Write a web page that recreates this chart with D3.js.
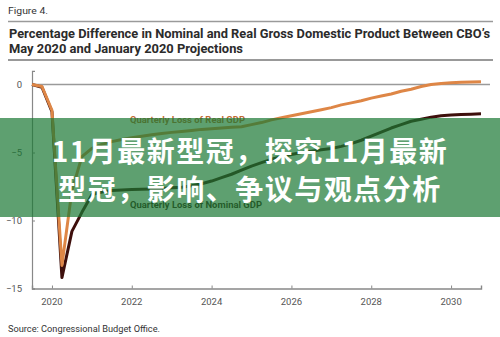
<!DOCTYPE html>
<html><head><meta charset="utf-8">
<script src="https://cdn.jsdelivr.net/npm/d3@7"></script>
<style>
html,body{margin:0;padding:0;background:#fff;}
svg{display:block;}
</style></head>
<body>
<svg id="c" width="500" height="337"></svg>
<script>
// Quarters 2019Q3 .. 2030Q4
const startYear = 2019.5;
const realLoss = [0, -0.15, -1.9, -13.3, -7.8, -5.3,
  -4.7, -4.4, -4.2, -4.05,
  -3.92, -3.8, -3.7, -3.6,
  -3.52, -3.45, -3.38, -3.3,
  -3.25, -3.2, -3.15, -3.1,
  -2.95, -2.8, -2.6, -2.45,
  -2.3, -2.15, -2.0, -1.85,
  -1.7, -1.5, -1.35, -1.2,
  -1.0, -0.85, -0.7, -0.5,
  -0.35, -0.15, 0.0, 0.08,
  0.12, 0.16, 0.18, 0.2];
const nominalLoss = [0, -0.2, -2.0, -14.2, -10.8, -9.4,
  -8.1, -7.9, -7.8, -7.75,
  -7.72, -7.7, -7.68, -7.65,
  -7.6, -7.55, -7.45, -7.3,
  -7.1, -6.85, -6.6, -6.3,
  -6.0, -5.75, -5.5, -5.3,
  -5.15, -5.0, -4.9, -4.8,
  -4.7, -4.55, -4.35, -4.1,
  -3.8, -3.5, -3.2, -2.95,
  -2.7, -2.55, -2.4, -2.3,
  -2.25, -2.2, -2.18, -2.15];
const yTicks = [0, -5, -10, -15];
const xTicks = [2020, 2022, 2024, 2026, 2028, 2030];
const figLabel = "Figure 4.";
const titleLines = ["Percentage Difference in Nominal and Real Gross Domestic Product Between CBO\u2019s",
                    "May 2020 and January 2020 Projections"];
const seriesLabels = ["Quarterly Loss of Real GDP", "Quarterly Loss of Nominal GDP"];
const source = "Source: Congressional Budget Office.";
const bannerLines = ["11月最新型冠，探究11月最新", "型冠，影响、争议与观点分析"];

const svg = d3.select("#c");
const x = d3.scaleLinear().domain([2019.5, 2030.75]).range([32, 481]);
const y = d3.scaleLinear().domain([-15, 1]).range([288.5, 70.9]);
const FONT = "Roboto, 'Liberation Sans', Arial, sans-serif";

// header
svg.append("text").attr("x", 8).attr("y", 13.5).attr("font-family", FONT)
  .attr("font-size", 9).attr("fill", "#333").attr("textLength", 40).attr("lengthAdjust","spacingAndGlyphs").text(figLabel);
svg.append("line").attr("x1", 8).attr("x2", 493).attr("y1", 21.5).attr("y2", 21.5)
  .attr("stroke", "#9a9a9a").attr("stroke-width", 1.6);
svg.append("text").attr("x", 9).attr("y", 38).attr("font-family", FONT).attr("font-weight", 700)
  .attr("font-size", 12.8).attr("fill", "#2b2b2b").attr("textLength", 481).attr("lengthAdjust","spacingAndGlyphs").text(titleLines[0]);
svg.append("text").attr("x", 9).attr("y", 53.3).attr("font-family", FONT).attr("font-weight", 700)
  .attr("font-size", 12.8).attr("fill", "#2b2b2b").attr("textLength", 234).attr("lengthAdjust","spacingAndGlyphs").text(titleLines[1]);
svg.append("line").attr("x1", 8).attr("x2", 493).attr("y1", 60).attr("y2", 60)
  .attr("stroke", "#777").attr("stroke-width", 1.6);

// zero line
svg.append("line").attr("x1", x(2019.5)).attr("x2", 490).attr("y1", y(0)).attr("y2", y(0))
  .attr("stroke", "#9a9a9a").attr("stroke-width", 1.4);

// axes
const yAxis = d3.axisRight(y).tickValues(yTicks).tickSize(3).tickFormat(() => "");
const gy = svg.append("g").attr("transform", `translate(${x(2019.5)},0)`).call(yAxis);
gy.select(".domain").attr("stroke", "#888").attr("stroke-width", 1.2);
gy.selectAll(".tick line").attr("stroke", "#888");
svg.append("g").selectAll("text").data(yTicks).join("text")
  .attr("x", 22).attr("y", d => y(d) + 3.3).attr("text-anchor", "end")
  .attr("font-family", FONT).attr("font-size", 9.5).attr("fill", "#555")
  .text(d => d < 0 ? "\u2212" + Math.abs(d) : d);

const xAxis = d3.axisTop(x).tickValues(xTicks).tickSize(3).tickFormat(() => "");
const gx = svg.append("g").attr("transform", `translate(0,${y(-15)})`).call(xAxis);
gx.select(".domain").attr("stroke", "#888").attr("stroke-width", 1.4);
gx.selectAll(".tick line").attr("stroke", "#888");
svg.append("g").selectAll("text").data(xTicks).join("text")
  .attr("x", d => x(d)).attr("y", 305).attr("text-anchor", "middle")
  .attr("font-family", FONT).attr("font-size", 9.5).attr("fill", "#555").text(d => d);

// lines
const line = d3.line().x((d, i) => x(startYear + i * 0.25)).y(d => y(d));
svg.append("path").datum(nominalLoss).attr("d", line).attr("fill", "none")
  .attr("stroke", "#3e0f0c").attr("stroke-width", 3).attr("stroke-linejoin", "round");
svg.append("path").datum(realLoss).attr("d", line).attr("fill", "none")
  .attr("stroke", "#de8646").attr("stroke-width", 3).attr("stroke-linejoin", "round");

// labels
svg.append("text").attr("x", 130).attr("y", 123).attr("font-family", FONT).attr("font-weight", 700)
  .attr("font-size", 9.5).attr("fill", "#c06a32").attr("textLength", 115).attr("lengthAdjust","spacingAndGlyphs").text(seriesLabels[0]);
svg.append("text").attr("x", 130).attr("y", 207.5).attr("font-family", FONT).attr("font-weight", 700)
  .attr("font-size", 9.5).attr("fill", "#3e1510").attr("textLength", 132).attr("lengthAdjust","spacingAndGlyphs").text(seriesLabels[1]);

// source
svg.append("text").attr("x", 8).attr("y", 331.5).attr("font-family", FONT)
  .attr("font-size", 9.5).attr("fill", "#333").attr("textLength", 152).attr("lengthAdjust","spacingAndGlyphs").text(source);

// banner overlay
svg.append("rect").attr("x", 0).attr("y", 118).attr("width", 500).attr("height", 99)
  .attr("fill", "rgb(25,119,51)").attr("fill-opacity", 0.7);
svg.append("g").selectAll("text").data(bannerLines).join("text")
  .attr("x", 250).attr("y", (d, i) => i === 0 ? 162 : 200).attr("text-anchor", "middle")
  .attr("font-family", "'Noto Sans CJK SC', sans-serif").attr("font-weight", 700)
  .attr("font-size", 28).attr("letter-spacing", 1.5).attr("fill", "#fff").text(d => d);
</script>
</body></html>
